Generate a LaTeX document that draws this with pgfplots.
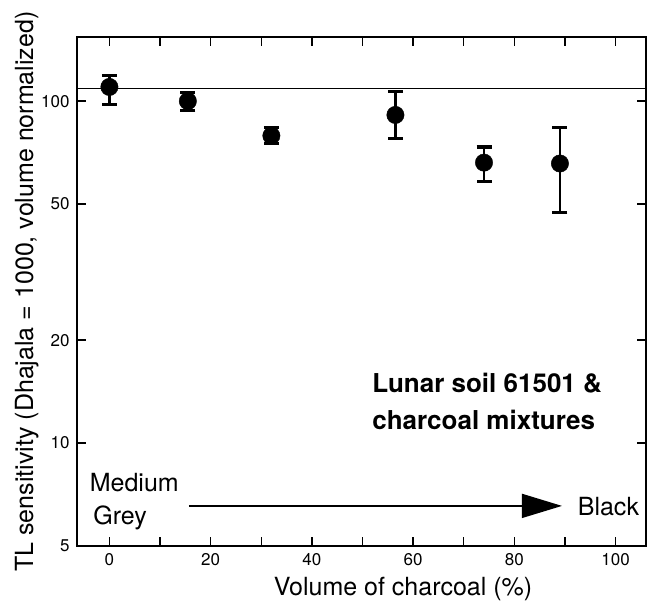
\documentclass[border=0pt]{standalone}
\usepackage{fontspec}
\setmainfont{TeX Gyre Heros}
\usepackage{pgfplots}
\pgfplotsset{compat=1.18}
\usepackage{pgfplotstable}
\usetikzlibrary{arrows.meta}

\pgfplotstableread{
x y ep em
0 110 8.9 12.2
15.5 100 6.2 6.0
32 79.2 4.6 4.2
56.5 91.1 15.8 13.2
74 66.1 7.3 8.0
89 65.7 18.1 18.4
}\data

\begin{document}
\begin{tikzpicture}
\useasboundingbox (-77pt,-56pt) rectangle (570pt,546pt);
\begin{axis}[
  scale only axis, width=569pt, height=509pt,
  ymode=log, xmin=-6.4, xmax=106, ymin=5, ymax=154,
  axis line style={line width=1.3pt},
  every tick/.style={black, line width=1.3pt},
  tick align=inside, major tick length=9pt, minor tick length=9pt,
  xtick={0,20,40,60,80,100}, xticklabels={0,20,40,60,80,100},
  minor xtick={10,30,50,70,90},
  ytick={5,10,20,50,100}, yticklabels={5,10,20,50,100},
  minor ytick={},
  /pgf/number format/assume math mode=true,
  tick label style={font=\fontsize{17}{20}\selectfont},
  xticklabel style={yshift=-3.5pt},
  yticklabel style={xshift=-4pt},
  label style={font=\fontsize{25}{30}\selectfont},
  xlabel={Volume of charcoal (\%)},
  ylabel={TL sensitivity (Dhajala = 1000, volume normalized)},
  xlabel style={at={(axis description cs:0.573,-0.0963)}, anchor=base},
  ylabel style={at={(axis description cs:-0.0773,0.5)}, anchor=base},
  clip=false,
]
\addplot[black, line width=1.3pt] coordinates {(-6.4,108.8) (106,108.8)};
\addplot[black, only marks, mark=*, mark size=8.7pt,
  error bars/.cd, y dir=both, y explicit, error mark=|,
  error bar style={line width=2.6pt},
  error mark options={line width=3.2pt, mark size=7.5pt}]
  table[x=x, y=y, y error plus=ep, y error minus=em]{\data};
\node[anchor=west, align=left, inner sep=0pt, font=\bfseries\fontsize{26}{37}\selectfont]
  at (axis cs:51.9,13.2) {Lunar soil 61501 \&\\charcoal mixtures};
\node[anchor=base west, inner sep=0pt, font=\fontsize{25}{30}\selectfont] at (axis cs:-3.9,7.2) {Medium};
\node[anchor=base west, inner sep=0pt, font=\fontsize{25}{30}\selectfont] at (axis cs:-3.2,5.76) {Grey};
\node[anchor=base west, inner sep=0pt, font=\fontsize{25}{30}\selectfont] at (axis cs:92.5,6.12) {Black};
\draw[line width=1.5pt, -{Triangle[length=40pt,width=24pt]}] (axis cs:15.7,6.55) -- (axis cs:89.4,6.55);
\end{axis}
\end{tikzpicture}
\end{document}
